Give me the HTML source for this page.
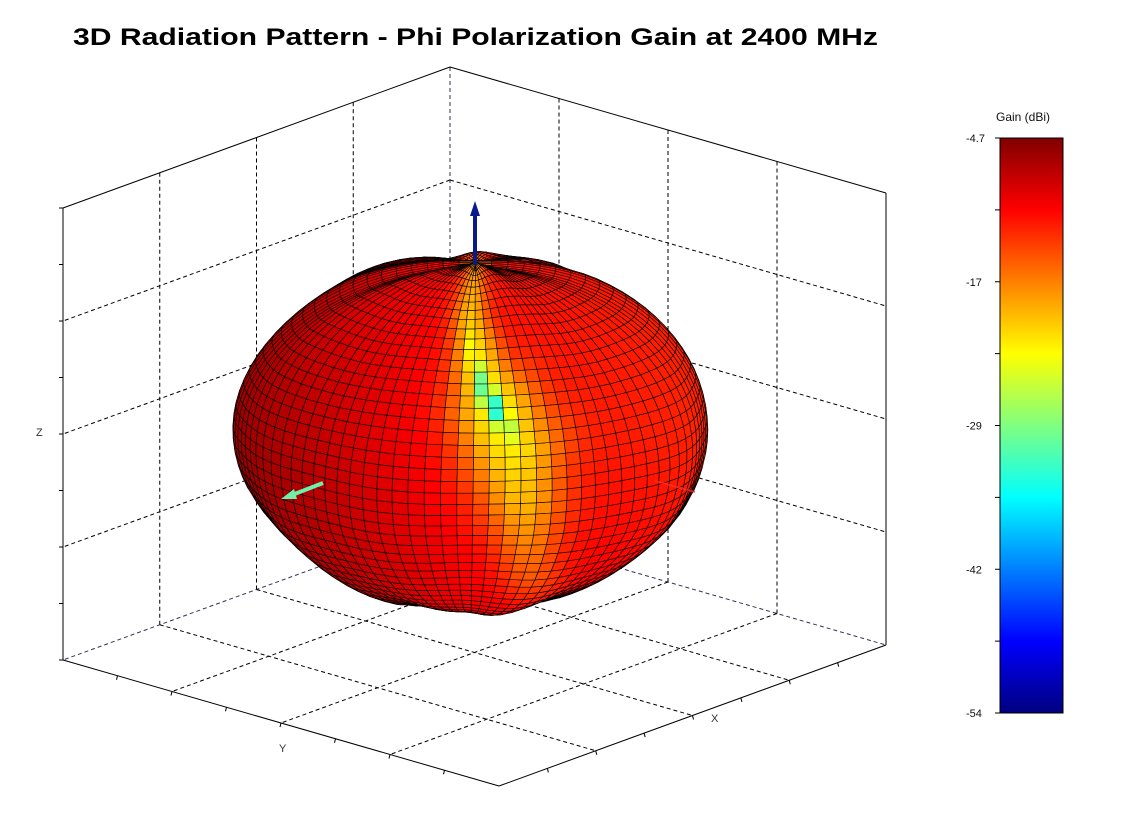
<!DOCTYPE html>
<html><head><meta charset="utf-8">
<style>
html,body{margin:0;padding:0;background:#fff;}
svg{display:block;font-family:"Liberation Sans",sans-serif;}
</style></head>
<body>
<svg id="s" width="1121" height="832" viewBox="0 0 1121 832" xmlns="http://www.w3.org/2000/svg">
<defs>
<linearGradient id="jet" x1="0" y1="1" x2="0" y2="0">
<stop offset="0" stop-color="#00007f"/>
<stop offset="0.125" stop-color="#0000ff"/>
<stop offset="0.375" stop-color="#00ffff"/>
<stop offset="0.5" stop-color="#80ff80"/>
<stop offset="0.625" stop-color="#ffff00"/>
<stop offset="0.875" stop-color="#ff0000"/>
<stop offset="1" stop-color="#800000"/>
</linearGradient>
</defs>
<rect width="1121" height="832" fill="#fff"/>
<text x="73" y="45" font-size="24" font-weight="bold" textLength="805" lengthAdjust="spacingAndGlyphs">3D Radiation Pattern - Phi Polarization Gain at 2400 MHz</text>
<g id="grid" stroke="#000" stroke-width="1" fill="none"></g>
<g id="mesh"></g>
<g id="front" stroke="#000" stroke-width="1" fill="none"></g>
<line x1="475" y1="265" x2="475" y2="212" stroke="#0a1a8c" stroke-width="4"/>
<polygon points="470,216 475,201 480,216" fill="#0a1a8c"/>
<line x1="323" y1="483" x2="292" y2="495" stroke="#6ef0a8" stroke-width="4"/>
<polygon points="281,499 294,489 297,499" fill="#6ef0a8"/>
<line x1="655" y1="481" x2="695" y2="492" stroke="#ff3030" stroke-width="2" opacity="0.7"/>
<text x="36" y="436" font-size="11" fill="#333">Z</text>
<text x="279" y="752" font-size="11" fill="#333">Y</text>
<text x="711" y="722" font-size="11" fill="#333">X</text>
<text x="996" y="121" font-size="12" fill="#111">Gain (dBi)</text>
<rect x="1000" y="138" width="63" height="575" fill="url(#jet)" stroke="#000" stroke-width="1"/>
<g id="cb" font-size="11" fill="#111"></g>
</svg>
<script>
(function(){
var NS="http://www.w3.org/2000/svg";
function el(p,t,a){var e=document.createElementNS(NS,t);for(var k in a)e.setAttribute(k,a[k]);p.appendChild(e);return e;}
var g=document.getElementById('grid'),f=document.getElementById('front'),m=document.getElementById('mesh'),cb=document.getElementById('cb');
var B=[450,67],L=[63,208],R=[886,193],H=452;
function lerp(a,b,t){return [a[0]+(b[0]-a[0])*t,a[1]+(b[1]-a[1])*t];}
function dl(a,b,col){var o={x1:a[0],y1:a[1],x2:b[0],y2:b[1],"stroke-dasharray":"4,3"};if(col)o.stroke=col;el(g,'line',o);}
for(var k=1;k<=3;k++){var dy=H*k/4;dl([B[0],B[1]+dy],[L[0],L[1]+dy]);dl([B[0],B[1]+dy],[R[0],R[1]+dy]);}
for(var k=1;k<=3;k++){var p=lerp(L,B,k/4);dl(p,[p[0],p[1]+H]);var q=lerp(B,R,k/4);dl(q,[q[0],q[1]+H]);}
dl(B,[B[0],B[1]+H],"#334");
var FB=[450,67+H],FL=[63,208+H],FR=[886,193+H],FF=[FL[0]+FR[0]-FB[0],FL[1]+FR[1]-FB[1]];
dl(FB,FL,"#335");dl(FB,FR,"#335");
for(var k=1;k<=3;k++){dl(lerp(FB,FL,k/4),lerp(FR,FF,k/4));dl(lerp(FB,FR,k/4),lerp(FL,FF,k/4));}
function sl(a,b){el(f,'line',{x1:a[0],y1:a[1],x2:b[0],y2:b[1]});}
sl(L,B);sl(B,R);sl(L,FL);sl(R,FR);sl(FL,FF);sl(FF,FR);
for(var k=0;k<=8;k++){var y=L[1]+H*k/8;sl([L[0]-4,y],[L[0],y]);}
for(var k=1;k<=7;k++){var p=lerp(FL,FF,k/8);sl(p,[p[0]-1,p[1]+4]);var q=lerp(FF,FR,k/8);sl(q,[q[0]+1,q[1]+4]);}
var labs=["-4.7","","-17","","-29","","-42","","-54"];
for(var k=0;k<=8;k++){var y=138+575*k/8;el(cb,'line',{x1:995,y1:y,x2:1000,y2:y,stroke:"#000"});if(labs[k]){var t=el(cb,'text',{x:966,y:y+4});t.textContent=labs[k];}}
function jet(v){v=Math.max(0,Math.min(1,v));var r=Math.max(0,Math.min(1,1.5-Math.abs(4*v-3))),gg=Math.max(0,Math.min(1,1.5-Math.abs(4*v-2))),b=Math.max(0,Math.min(1,1.5-Math.abs(4*v-1)));return "rgb("+Math.round(r*255)+","+Math.round(gg*255)+","+Math.round(b*255)+")";}
function segVal(seam,x,y){var best=0;for(var i=0;i<seam.length-1;i++){var a=seam[i],b=seam[i+1];var dx=b[0]-a[0],dy=b[1]-a[1];var t=((x-a[0])*dx+(y-a[1])*dy)/(dx*dx+dy*dy);t=Math.max(0,Math.min(1,t));var px=a[0]+dx*t,py=a[1]+dy*t;var d=Math.hypot(x-px,y-py);var A=a[2]+(b[2]-a[2])*t,w=a[3]+(b[3]-a[3])*t;var val=A*Math.exp(-Math.pow(d/w,2));if(val>best)best=val;}return best;}
var broad=[[475,262,0.12,10],[470,320,0.18,18],[480,370,0.22,28],[495,410,0.24,42],[512,450,0.22,48],[522,500,0.18,42],[530,570,0.1,32]];
var narrow=[[468,330,0.05,5],[478,375,0.18,8],[492,405,0.3,10],[505,425,0.2,9],[512,445,0.05,6]];
function seamVal(x,y){return Math.max(segVal(broad,x,y),segVal(narrow,x,y)+segVal(broad,x,y)*0.8);}
var C=[473,432],rx=237,ry=181;
function norm(a){var l=Math.hypot(a[0],a[1],a[2]);return [a[0]/l,a[1]/l,a[2]/l];}
var P=norm([0.01,0.94,0.34]);
var U=norm([1-P[0]*P[0],-P[0]*P[1],-P[0]*P[2]]);
var V=[P[1]*U[2]-P[2]*U[1],P[2]*U[0]-P[0]*U[2],P[0]*U[1]-P[1]*U[0]];
var NT=46,NP=92,polys=[];
function pt(th,ph){var s=Math.sin(th),c=Math.cos(th),cp=Math.cos(ph),sp=Math.sin(ph);
 var X=c*P[0]+s*(cp*U[0]+sp*V[0]),Y=c*P[1]+s*(cp*U[1]+sp*V[1]),Z=c*P[2]+s*(cp*U[2]+sp*V[2]);
 var bump=1+0.012*Math.sin(5*ph+th*3)+0.008*Math.sin(9*ph);
 var sx=bump,sy=bump;
 if(Y<-0.55){sx*=1-0.15*(-Y-0.55);}
 if(Y>0.85){sy*=1-0.12*(Y-0.85);}
 return [C[0]+rx*X*sx,C[1]-ry*Y*sy,Z,X,Y];}
for(var i=0;i<NT;i++){for(var j=0;j<NP;j++){
 var t0=i*Math.PI/NT,t1=(i+1)*Math.PI/NT,p0=j*2*Math.PI/NP,p1=(j+1)*2*Math.PI/NP;
 var a=pt(t0,p0),b=pt(t1,p0),c=pt(t1,p1),d=pt(t0,p1);
 var z=(a[2]+b[2]+c[2]+d[2])/4;if(z<-0.08)continue;
 var X=(a[3]+c[3])/2,Y=(a[4]+c[4])/2;
 var cx=(a[0]+b[0]+c[0]+d[0])/4,cy=(a[1]+b[1]+c[1]+d[1])/4;
 var v=0.86+0.12*Math.max(0,-X-0.05)+0.03*Math.max(0,-Y)-0.03*Math.max(0,X-0.3);
 v-=seamVal(cx,cy);
 polys.push([z,[a,b,c,d],jet(v),i]);
}}
polys.sort(function(a,b){return a[0]-b[0];});
var s="";
polys.forEach(function(q){var pts=q[1].map(function(p){return p[0].toFixed(1)+","+p[1].toFixed(1);}).join(" ");
 s+='<polygon points="'+pts+'" fill="'+q[2]+'" stroke="#000" stroke-width="0.6"/>';});
m.innerHTML=s;
})();
</script>
</body></html>
